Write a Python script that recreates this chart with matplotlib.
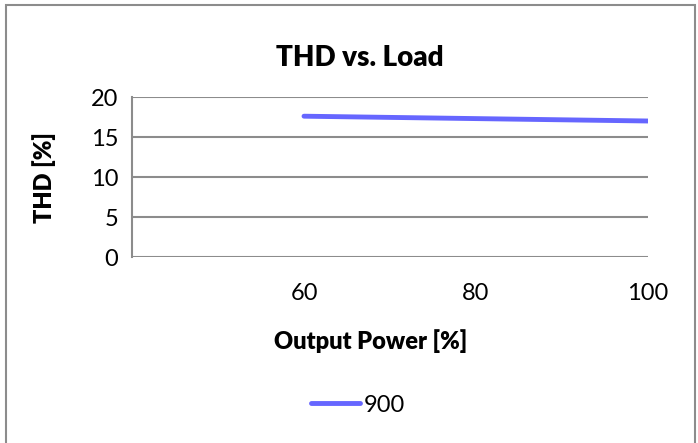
import matplotlib
matplotlib.use("Agg")
import matplotlib.pyplot as plt
from matplotlib.patches import Rectangle

output_power = [60, 80, 100]
thd_900 = [17.6, 17.3, 17.0]
series_label = "900"
x_ticks = [60, 80, 100]
y_ticks = [0, 5, 10, 15, 20]

plt.rcParams['font.family'] = ['Lato', 'DejaVu Sans']

fig = plt.figure(figsize=(6.98, 4.43), dpi=100)
fig.patches.append(Rectangle((6/698, -0.05), (695-6)/698, 1 - 5/443 + 0.05,
                             transform=fig.transFigure, fill=False,
                             edgecolor='#8c8c8c', linewidth=1.5))

ax = fig.add_axes([132/698, 1 - 257/443, (648-132)/698, (257-97)/443])
line, = ax.plot(output_power, thd_900, color='#6666ff', linewidth=3.5,
                solid_capstyle='round', label=series_label)
ax.set_xlim(40, 100)
ax.set_ylim(0, 20)
ax.set_xticks(x_ticks)
ax.set_yticks(y_ticks)
ax.grid(axis='y', color='#8c8c8c', linewidth=1.5)
ax.set_axisbelow(True)
for s in ['top', 'right', 'bottom']:
    ax.spines[s].set_visible(False)
ax.spines['left'].set_color('#8c8c8c')
ax.spines['left'].set_linewidth(1.5)
ax.tick_params(length=0, labelsize=17)
ax.tick_params(axis='x', pad=19)
ax.tick_params(axis='y', pad=10)

fig.text(360/698, 1 - 58/443, "THD vs. Load", ha='center', va='center',
         fontsize=20, fontweight='heavy')
fig.text(371/698, 1 - 341/443, "Output Power [%]", ha='center', va='center',
         fontsize=17, fontweight='heavy')
fig.text(44/698, 1 - 178/443, "THD [%]", ha='center', va='center',
         fontsize=17, fontweight='heavy', rotation=90)

fig.legend(handles=[line], loc='center', bbox_to_anchor=(358/698, 1 - 405/443),
           frameon=False, fontsize=17, handlelength=2.1, handletextpad=0.15)

fig.savefig("out.png", dpi=100)
